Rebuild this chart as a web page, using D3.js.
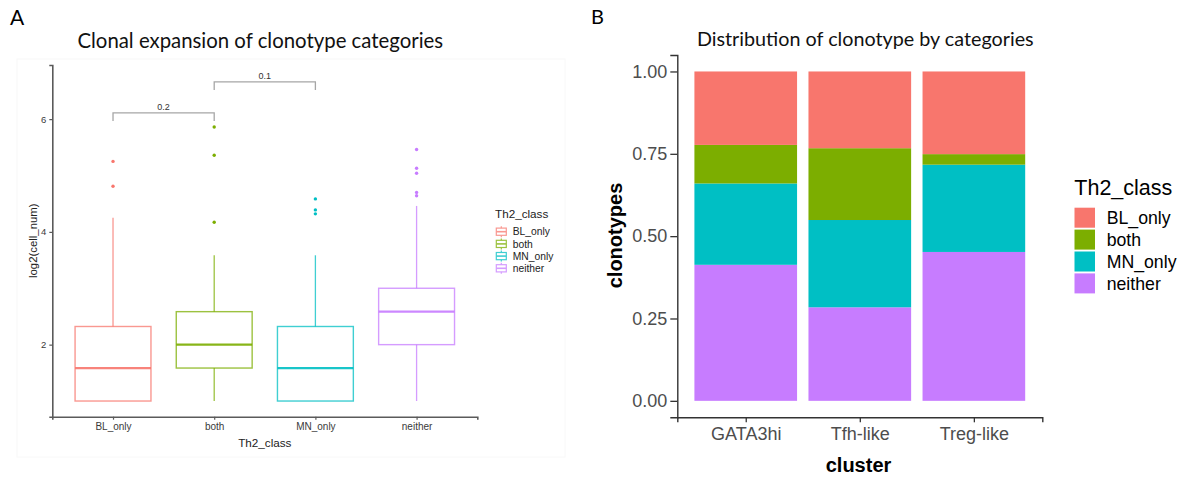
<!DOCTYPE html>
<html>
<head>
<meta charset="utf-8">
<script src="https://cdn.jsdelivr.net/npm/d3@7"></script>
<style>
  html, body { margin: 0; padding: 0; background: #ffffff; }
  svg { display: block; }
  text { font-family: "Liberation Sans", Arial, sans-serif; }
  .heading { font-family: Lato, "Open Sans", sans-serif; }
</style>
</head>
<body>
<svg id="fig" width="1182" height="478"></svg>
<script>
// ---------- Panel A: boxplots of log2(cell_num) by Th2 class ----------
const classes = ["BL_only", "both", "MN_only", "neither"];
const classColors = ["#F8766D", "#7CAE00", "#00BFC4", "#C77CFF"];

const boxLowerWhisker = [1.0, 1.0, 1.0, 1.0];
const boxQ1 = [1.0, 1.585, 1.0, 2.0];
const boxMedian = [1.585, 2.0, 1.585, 2.585];
const boxQ3 = [2.322, 2.585, 2.322, 3.0];
const boxUpperWhisker = [4.25, 3.585, 3.585, 4.46];
const outliersBL = [5.25, 4.81];
const outliersBoth = [5.86, 5.36, 4.17];
const outliersMN = [4.585, 4.39, 4.32];
const outliersNeither = [5.46, 5.13, 5.04, 4.70, 4.64];
const boxOutliers = [outliersBL, outliersBoth, outliersMN, outliersNeither];

const boxYTicks = [2, 4, 6];

// pairwise comparisons shown as brackets with p-values
const compareFrom = ["BL_only", "both"];
const compareTo = ["both", "MN_only"];
const compareY = [6.11, 6.66];
const compareLabels = ["0.2", "0.1"];

// ---------- Panel B: stacked proportions by cluster ----------
const clusters = ["GATA3hi", "Tfh-like", "Treg-like"];
const shareBL = [0.223, 0.233, 0.251];
const shareBoth = [0.117, 0.218, 0.032];
const shareMN = [0.247, 0.265, 0.265];
const shareNeither = [0.413, 0.284, 0.452];
const fillYTicks = [0, 0.25, 0.5, 0.75, 1.0];
const fillTickLabels = ["0.00", "0.25", "0.50", "0.75", "1.00"];

const svg = d3.select("#fig");
svg.append("rect").attr("width", 1182).attr("height", 478).attr("fill", "#fff");

// fit a heading's font size so that it spans a given width
function fitHeading(sel, targetWidth, startSize) {
  sel.attr("font-size", startSize);
  const w = sel.node().getComputedTextLength();
  sel.attr("font-size", startSize * targetWidth / w);
}

// =================== Panel A ===================
const gA = svg.append("g");
gA.append("rect").attr("x", 17).attr("y", 59).attr("width", 548).attr("height", 398)
  .attr("fill", "none").attr("stroke", "#f8f8f8").attr("stroke-width", 1);

gA.append("text").attr("x", 17).attr("y", 25).attr("text-anchor", "middle")
  .attr("font-size", 21).attr("fill", "#000").attr("class", "heading").text("A");

const titleA = gA.append("text").attr("class", "heading").attr("x", 260.3).attr("y", 47.5)
  .attr("text-anchor", "middle").attr("fill", "#111").text("Clonal expansion of clonotype categories");
fitHeading(titleA, 366, 20);

const xA = d3.scalePoint().domain(classes).range([52.3, 477.3]).padding(0.6);
const yA = d3.scaleLinear().domain([0.722, 6.96]).range([416.7, 65]);
const colorA = d3.scaleOrdinal().domain(classes).range(classColors);
const boxW = xA.step() * 0.75;

// axes
const axisColor = "#5a5a5a";
const yAxisA = gA.append("g").attr("transform", "translate(52.3,0)")
  .call(d3.axisLeft(yA).tickValues(boxYTicks).tickSize(3).tickPadding(3).tickFormat(d3.format("d")));
const xAxisA = gA.append("g").attr("transform", "translate(0,416.7)")
  .call(d3.axisBottom(xA).tickSize(3).tickPadding(3));
[yAxisA, xAxisA].forEach(ax => {
  ax.select(".domain").attr("stroke", axisColor).attr("stroke-width", 1.6);
  ax.selectAll(".tick line").attr("stroke", axisColor).attr("stroke-width", 1.2);
  ax.selectAll(".tick text").attr("fill", "#3a3a3a").attr("font-family", "Liberation Sans, Arial, sans-serif");
});
yAxisA.selectAll(".tick text").attr("font-size", 9.5);
xAxisA.selectAll(".tick text").attr("font-size", 10).attr("dy", "0.75em");

gA.append("text").attr("x", 264.8).attr("y", 447.3).attr("text-anchor", "middle")
  .attr("font-size", 11.7).attr("fill", "#222").text("Th2_class");
gA.append("text").attr("transform", "translate(36.5,240.7) rotate(-90)").attr("text-anchor", "middle")
  .attr("font-size", 11.4).attr("fill", "#222").text("log2(cell_num)");

// boxes
const boxes = gA.append("g").selectAll("g").data(classes).join("g");
boxes.each(function (c, i) {
  const g = d3.select(this);
  const cx = xA(c), col = colorA(c);
  g.append("line").attr("x1", cx).attr("x2", cx)
    .attr("y1", yA(boxQ3[i])).attr("y2", yA(boxUpperWhisker[i]))
    .attr("stroke", col).attr("stroke-width", 1.3).attr("opacity", 0.75);
  g.append("line").attr("x1", cx).attr("x2", cx)
    .attr("y1", yA(boxQ1[i])).attr("y2", yA(boxLowerWhisker[i]))
    .attr("stroke", col).attr("stroke-width", 1.3).attr("opacity", 0.75);
  g.append("rect").attr("x", cx - boxW / 2).attr("width", boxW)
    .attr("y", yA(boxQ3[i])).attr("height", yA(boxQ1[i]) - yA(boxQ3[i]))
    .attr("fill", "#fff").attr("stroke", col).attr("stroke-width", 1.4).attr("opacity", 0.75);
  g.append("line").attr("x1", cx - boxW / 2).attr("x2", cx + boxW / 2)
    .attr("y1", yA(boxMedian[i])).attr("y2", yA(boxMedian[i]))
    .attr("stroke", col).attr("stroke-width", 2.2).attr("opacity", 0.9);
  g.selectAll("circle").data(boxOutliers[i]).join("circle")
    .attr("cx", cx).attr("cy", d => yA(d)).attr("r", 1.7).attr("fill", col);
});

// comparison brackets
const bracketG = gA.append("g");
compareFrom.forEach((a, i) => {
  const x1 = xA(a), x2 = xA(compareTo[i]), yy = yA(compareY[i]);
  bracketG.append("path")
    .attr("d", `M${x1},${yy + 8}V${yy}H${x2}V${yy + 8}`)
    .attr("fill", "none").attr("stroke", "#a6a6a6").attr("stroke-width", 1.3);
  bracketG.append("text").attr("x", (x1 + x2) / 2).attr("y", yy - 2.8)
    .attr("text-anchor", "middle").attr("font-size", 9).attr("fill", "#333").text(compareLabels[i]);
});

// legend A
const legA = gA.append("g");
legA.append("text").attr("x", 495).attr("y", 218.3).attr("font-size", 11.7).attr("fill", "#222").text("Th2_class");
classes.forEach((c, i) => {
  const cy = 231.7 + i * 12.2, cx = 501.3, col = colorA(c);
  const k = legA.append("g").attr("opacity", 0.75);
  k.append("line").attr("x1", cx).attr("x2", cx).attr("y1", cy - 5.5).attr("y2", cy + 5.5)
    .attr("stroke", col).attr("stroke-width", 1.2);
  k.append("rect").attr("x", cx - 5).attr("y", cy - 3.6).attr("width", 10).attr("height", 7.2)
    .attr("fill", "#fff").attr("stroke", col).attr("stroke-width", 1.2);
  k.append("line").attr("x1", cx - 5).attr("x2", cx + 5).attr("y1", cy).attr("y2", cy)
    .attr("stroke", col).attr("stroke-width", 1.6);
  legA.append("text").attr("x", 512.7).attr("y", cy).attr("dy", "0.35em")
    .attr("font-size", 10.3).attr("fill", "#222").text(c);
});

// =================== Panel B ===================
const gB = svg.append("g");
gB.append("text").attr("x", 597.5).attr("y", 24).attr("text-anchor", "middle")
  .attr("font-size", 20).attr("fill", "#000").attr("class", "heading").text("B");

const titleB = gB.append("text").attr("class", "heading").attr("x", 865.3).attr("y", 45.7)
  .attr("text-anchor", "middle").attr("fill", "#111").text("Distribution of clonotype by categories");
fitHeading(titleB, 337, 18);

const xB = d3.scalePoint().domain(clusters).range([677.3, 1042.3]).padding(0.6);
const yB = d3.scaleLinear().domain([-0.05, 1.05]).range([417.3, 55]);
const barW = xB.step() * 0.9;

const rows = clusters.map((c, i) => ({
  cluster: c, BL_only: shareBL[i], both: shareBoth[i], MN_only: shareMN[i], neither: shareNeither[i]
}));
const stackKeys = ["neither", "MN_only", "both", "BL_only"];
const series = d3.stack().keys(stackKeys)(rows);

gB.append("g").selectAll("g").data(series).join("g")
  .attr("fill", d => colorA(d.key))
  .selectAll("rect").data(d => d).join("rect")
  .attr("x", d => xB(d.data.cluster) - barW / 2).attr("width", barW)
  .attr("y", d => yB(d[1])).attr("height", d => yB(d[0]) - yB(d[1]));

const yAxisB = gB.append("g").attr("transform", "translate(677.3,0)")
  .call(d3.axisLeft(yB).tickValues(fillYTicks).tickSize(7).tickPadding(3)
    .tickFormat((d, i) => fillTickLabels[i]));
const xAxisB = gB.append("g").attr("transform", "translate(0,417.3)")
  .call(d3.axisBottom(xB).tickSize(5).tickPadding(5));
[yAxisB, xAxisB].forEach(ax => {
  ax.select(".domain").attr("stroke", "#333").attr("stroke-width", 1.4);
  ax.selectAll(".tick line").attr("stroke", "#333").attr("stroke-width", 1.3);
  ax.selectAll(".tick text").attr("fill", "#4d4d4d").attr("font-size", 18)
    .attr("font-family", "Liberation Sans, Arial, sans-serif");
});
xAxisB.selectAll(".tick text").attr("dy", "0.72em");

gB.append("text").attr("x", 858.5).attr("y", 472).attr("text-anchor", "middle")
  .attr("font-size", 20).attr("font-weight", "bold").attr("fill", "#000").text("cluster");
gB.append("text").attr("transform", "translate(622,235.5) rotate(-90)").attr("text-anchor", "middle")
  .attr("font-size", 20).attr("font-weight", "bold").attr("fill", "#000").text("clonotypes");

// legend B
const legB = gB.append("g");
legB.append("text").attr("x", 1074.3).attr("y", 195).attr("font-size", 21.5).attr("fill", "#000").text("Th2_class");
classes.forEach((c, i) => {
  const top = 207.7 + i * 21.9;
  legB.append("rect").attr("x", 1074.5).attr("y", top).attr("width", 20.5).attr("height", 20)
    .attr("fill", colorA(c));
  legB.append("text").attr("x", 1106.7).attr("y", top + 10).attr("dy", "0.35em")
    .attr("font-size", 17.7).attr("fill", "#000").text(c);
});
</script>
</body>
</html>
